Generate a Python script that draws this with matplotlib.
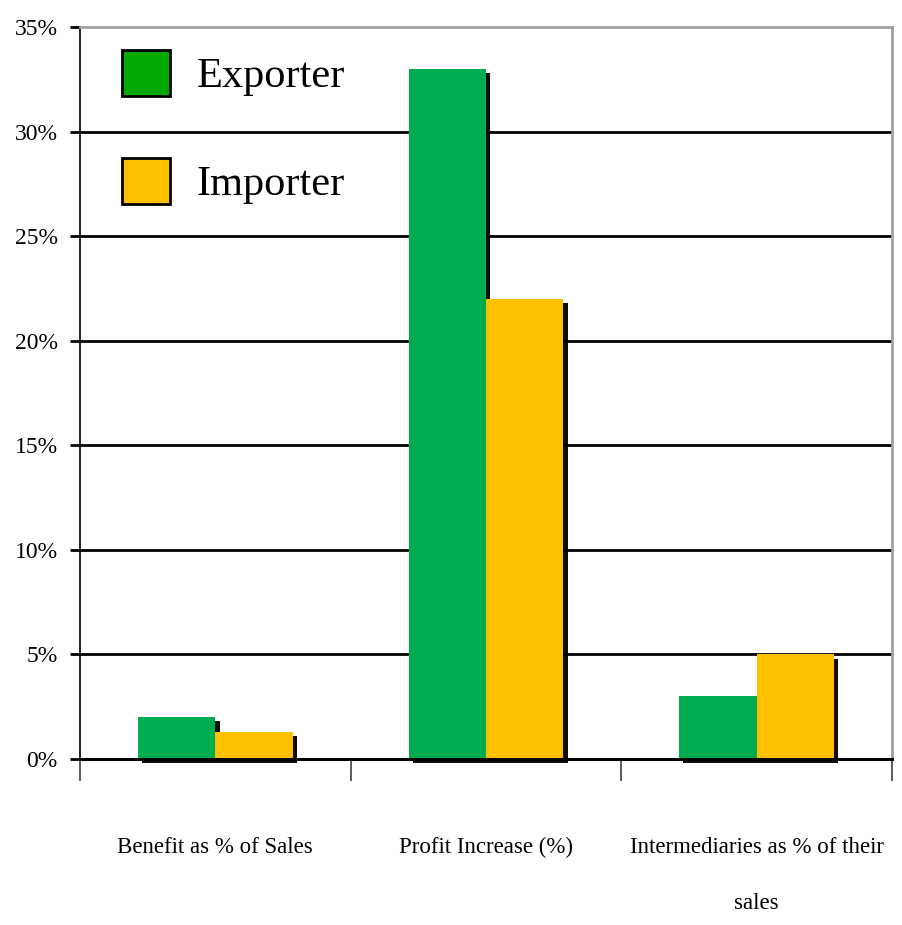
import matplotlib
matplotlib.use('Agg')
import matplotlib.pyplot as plt
import matplotlib.patheffects as pe
from matplotlib.patches import Patch
from matplotlib.ticker import FixedLocator, PercentFormatter

plt.rcParams['font.family'] = ['Liberation Serif', 'DejaVu Serif']

# Survey results, in percent
categories = ['Benefit as % of Sales', 'Profit Increase (%)',
              'Intermediaries as % of their\nsales']
exporter = [2.0, 33.0, 3.0]
importer = [1.3, 22.0, 5.0]
series_names = ['Exporter', 'Importer']
y_ticks = [0, 5, 10, 15, 20, 25, 30, 35]

bar_green = '#00AD4F'
legend_green = '#00AA00'
gold = '#FFC000'

fig = plt.figure(figsize=(9.03, 9.25), dpi=100)
ax = fig.add_axes([0.0886, 0.1795, 0.8992, 0.7913])

x = list(range(len(categories)))
w = 0.286
shadow = [pe.SimplePatchShadow(offset=(3, -3), shadow_rgbFace='black', alpha=0.95), pe.Normal()]

ax.bar([i - w / 2 for i in x], exporter, width=w, color=bar_green, zorder=3,
       clip_on=False, path_effects=shadow)
ax.bar([i + w / 2 for i in x], importer, width=w, color=gold, zorder=3,
       clip_on=False, path_effects=shadow)

ax.set_xlim(-0.5, len(categories) - 0.5)
ax.set_ylim(0, 35)

# horizontal grid
for t in y_ticks[1:-1]:
    ax.axhline(t, color='black', lw=2, zorder=1)
ax.axhline(0, color='black', lw=2.2, zorder=4, clip_on=False)

ax.yaxis.set_major_locator(FixedLocator(y_ticks))
ax.yaxis.set_major_formatter(PercentFormatter(decimals=0))
ax.tick_params(axis='y', direction='out', length=7, width=2, pad=9, labelsize=17)

ax.set_xticks(x)
ax.set_xticklabels(categories, linespacing=3.2)
ax.tick_params(axis='x', which='major', length=0, pad=56, labelsize=16.5)
ax.xaxis.set_minor_locator(FixedLocator([-0.5, 0.5, 1.5, 2.5]))
ax.tick_params(axis='x', which='minor', direction='out', length=16, width=1.2,
               color='#404040')

for side in ('top', 'right'):
    ax.spines[side].set_color('#A0A0A0')
    ax.spines[side].set_linewidth(2)
ax.spines['left'].set_linewidth(1.2)
ax.spines['bottom'].set_visible(False)

handles = [Patch(facecolor=legend_green, edgecolor='black', lw=2),
           Patch(facecolor=gold, edgecolor='black', lw=2)]
ax.legend(handles, series_names, loc='upper left', bbox_to_anchor=(0.0517, 0.9686),
          frameon=False, fontsize=30.5, handlelength=1.14, handleheight=1.3,
          handletextpad=0.62, labelspacing=1.45, borderpad=0, borderaxespad=0)

fig.savefig('out.png', dpi=100)
